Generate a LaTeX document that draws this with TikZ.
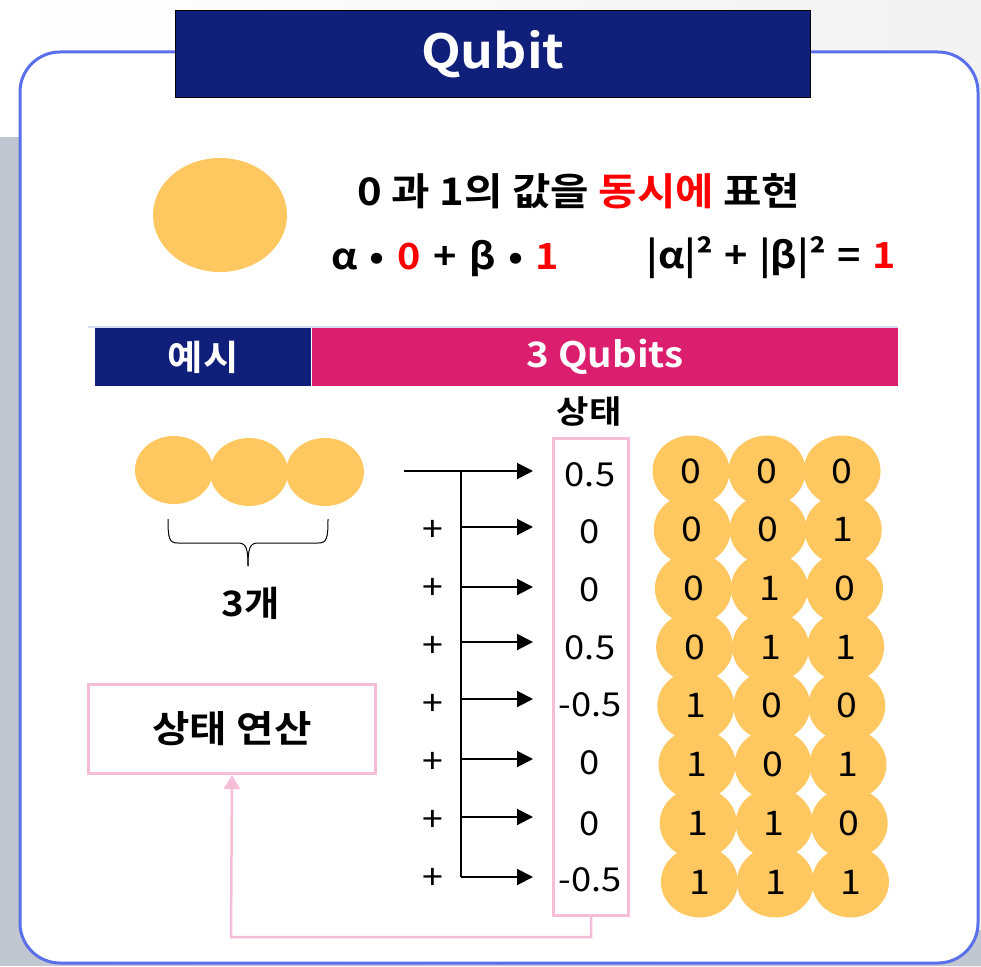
\documentclass[tikz,border=0pt]{standalone}
\usepackage{fontspec}
\setmainfont{Noto Sans CJK KR}[BoldFont={Noto Sans CJK KR Bold},FakeStretch=1.1]
\usetikzlibrary{arrows.meta,shapes.geometric}
\definecolor{navy}{HTML}{101F7A}
\definecolor{magbar}{HTML}{DB1F6E}
\definecolor{pinkline}{HTML}{F6BDD7}
\definecolor{gold}{HTML}{FFC75F}
\definecolor{cardblue}{HTML}{5A6FEA}
\definecolor{bandgray}{HTML}{C0C7D0}
\definecolor{lavline}{HTML}{DADEF2}
\definecolor{redtxt}{HTML}{FF0000}
\newcommand{\gp}{\hspace{3.5pt}}
\newcommand{\gq}{\hspace{2.5pt}}
\begin{document}
\begin{tikzpicture}[x=1pt,y=-1pt,
  bar/.style={anchor=north west,inner sep=0pt,minimum height=58pt,text=white,font=\bfseries\fontsize{35}{37}\selectfont},
  coin/.style={ellipse,fill=gold,inner sep=0pt},
  val/.style={font=\fontsize{33}{35}\selectfont},
  bit/.style={font=\fontsize{34}{36}\selectfont},
  plus/.style={font=\fontsize{34}{36}\selectfont},
  arr/.style={line width=2pt,-{Triangle[length=16pt,width=16pt]}},
  pinkbox/.style={draw=pinkline,line width=3pt,anchor=north west,inner sep=0pt},
  big/.style={font=\bfseries\fontsize{37}{39}\selectfont}
]
\useasboundingbox (0,0) rectangle (981,966);
% background
\shade[left color=white,right color=gray!10] (0,0) rectangle (981,966);
\fill[bandgray] (0,137) rectangle (40,966);
\fill[bandgray] (0,930) rectangle (981,966);
% card
\draw[cardblue,line width=3pt,fill=white,rounded corners=40pt] (20,52) rectangle (978,963);
% title
\node[fill=navy,draw=black,line width=0.8pt,minimum width=635pt,minimum height=87pt,anchor=north west,inner sep=0pt,text=white,font=\bfseries\fontsize{47}{49}\selectfont] (title) at (175,10) {Qubit};
% single qubit
\node[coin,minimum width=134pt,minimum height=114pt] (qb) at (220,215) {};
\node[font=\bfseries\fontsize{38}{40}\selectfont] (desc) at (579,191) {0 과 1의 값을 \textcolor{redtxt}{동시에} 표현};
\node[font=\bfseries\fontsize{36}{38}\selectfont] (f1) at (445,258) {α\gp{} •\gp{} \textcolor{redtxt}{0}\gp{} +\gp{} β\gp{} •\gp{} \textcolor{redtxt}{1}};
\node[font=\bfseries\fontsize{36}{38}\selectfont] (f2) at (771,258) {|α|²\gq{} +\gq{} |β|²\gq{} =\gq{} \textcolor{redtxt}{1}};
% header bars
\draw[lavline,line width=2pt] (88,327) -- (898,327);
\node[bar,fill=navy,minimum width=216pt] (ex) at (95,328) {예시};
\node[bar,fill=magbar,minimum width=586pt] (q3) at (312,328) {3 Qubits};
% three qubits
\node[coin,minimum width=78pt,minimum height=68pt] (c1) at (174,470) {};
\node[coin,minimum width=78pt,minimum height=68pt] (c2) at (249,472) {};
\node[coin,minimum width=78pt,minimum height=68pt] (c3) at (325,472) {};
\draw[line width=1pt] (168,519) .. controls (168,538) and (169,543) .. (178,543) -- (238,543) .. controls (246,543) and (248,548) .. (248,566);
\draw[line width=1pt] (328,519) .. controls (328,538) and (327,543) .. (318,543) -- (258,543) .. controls (250,543) and (248,548) .. (248,566);
\node[font=\bfseries\fontsize{35}{37}\selectfont] (cnt) at (251,603) {3개};
% operation box
\node[pinkbox,minimum width=287pt,minimum height=89pt,big] (op) at (87,683) {상태 연산};
% state vector
\node[font=\bfseries\fontsize{32}{34}\selectfont] (hdr) at (589,412) {상태};
\node[pinkbox,minimum width=75pt,minimum height=477pt] (sv) at (552,437) {};
\foreach \i/\y/\v/\vy in {1/471/0.5/475,2/527/0/532,3/587/0/590,4/642/0.5/648,5/699/-0.5/705,6/759/0/763,7/817/0/824,8/877/-0.5/880}{
  \coordinate (s\i) at (461,\y);
  \coordinate (t\i) at (533,\y);
  \node[val] (v\i) at (590,\vy) {\v};
}
\coordinate (s0) at (404,471);
\draw[line width=1.3pt] (s1) -- (s8);
\draw[arr] (s0) -- (t1);
\foreach \i in {2,...,8}{
  \draw[arr] (s\i) -- (t\i);
  \node[plus] (p\i) at (433,{471+(\i-1)*58.0+2}) {+};
}
% feedback
\coordinate (fb) at (231,937);
\draw[pinkline,line width=2.5pt,-{Triangle[length=14pt,width=16pt]}] (sv.south) |- (fb) -- (op.south);
% basis grid
\foreach \r/\a/\b/\c in {0/0/0/0,1/0/0/1,2/0/1/0,3/0/1/1,4/1/0/0,5/1/0/1,6/1/1/0,7/1/1/1}{
  \node[coin,minimum width=77pt,minimum height=71pt] (g\r a) at ({691+1.2*\r},{471+58.7*\r}) {};
  \node[coin,minimum width=77pt,minimum height=71pt] (g\r b) at ({767+1.2*\r},{471+58.7*\r}) {};
  \node[coin,minimum width=77pt,minimum height=71pt] (g\r c) at ({842+1.2*\r},{471+58.7*\r}) {};
}
\foreach \r/\a/\b/\c in {0/0/0/0,1/0/0/1,2/0/1/0,3/0/1/1,4/1/0/0,5/1/0/1,6/1/1/0,7/1/1/1}{
  \node[bit] at (g\r a) {\a};
  \node[bit] at (g\r b) {\b};
  \node[bit] at (g\r c) {\c};
}
\end{tikzpicture}
\end{document}
